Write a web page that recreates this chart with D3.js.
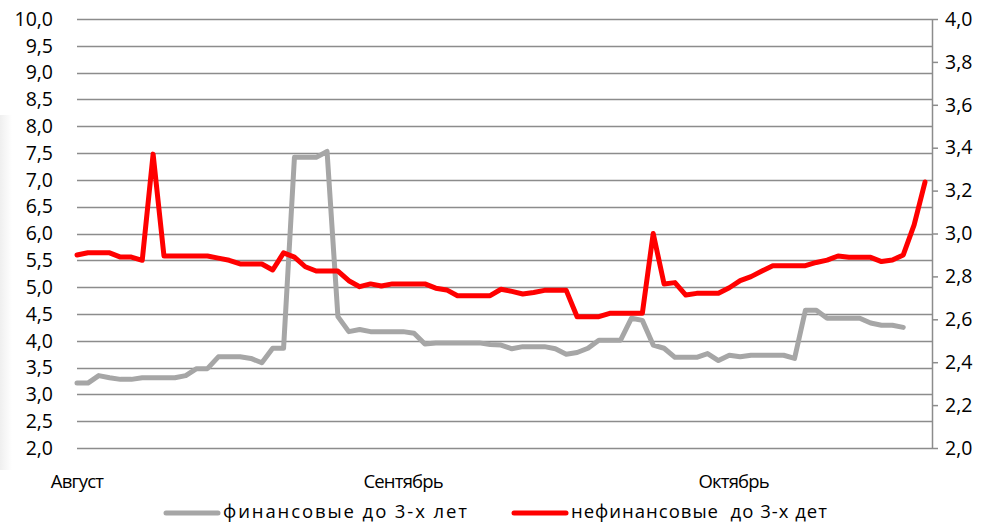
<!DOCTYPE html>
<html>
<head>
<meta charset="utf-8">
<script src="https://cdn.jsdelivr.net/npm/d3@7"></script>
<style>
  body { margin: 0; background: #fff; }
  text { font-family: 'Open Sans', sans-serif; fill: #000; }
</style>
</head>
<body>
<div class="chart"></div>
<script>

/** series data (left axis: financial, right axis: non-financial) */
const finSeries = [
  3.21, 3.21, 3.35, 3.31, 3.28, 3.28, 3.31, 3.31, 3.31, 3.31,
  3.35, 3.48, 3.48, 3.70, 3.70, 3.70, 3.67, 3.59, 3.86, 3.86,
  7.42, 7.42, 7.42, 7.53, 4.45, 4.17, 4.21, 4.17, 4.17, 4.17,
  4.17, 4.14, 3.94, 3.96, 3.96, 3.96, 3.96, 3.96, 3.93, 3.92,
  3.85, 3.89, 3.89, 3.89, 3.85, 3.75, 3.78, 3.86, 4.01, 4.01,
  4.01, 4.42, 4.38, 3.92, 3.86, 3.69, 3.69, 3.69, 3.76, 3.63,
  3.73, 3.70, 3.73, 3.73, 3.73, 3.73, 3.67, 4.57, 4.57, 4.42,
  4.42, 4.42, 4.42, 4.33, 4.29, 4.29, 4.25];

const nonFinSeries = [
  2.90, 2.91, 2.91, 2.91, 2.89, 2.89, 2.875, 3.37, 2.895, 2.895,
  2.895, 2.895, 2.895, 2.885, 2.875, 2.858, 2.858, 2.858, 2.83, 2.91,
  2.89, 2.845, 2.825, 2.825, 2.825, 2.78, 2.752, 2.765, 2.755, 2.765,
  2.765, 2.765, 2.765, 2.745, 2.737, 2.71, 2.71, 2.71, 2.71, 2.74,
  2.73, 2.718, 2.725, 2.735, 2.735, 2.735, 2.612, 2.612, 2.612, 2.628,
  2.628, 2.628, 2.628, 3.00, 2.765, 2.771, 2.713, 2.721, 2.721, 2.721,
  2.747, 2.78, 2.799, 2.825, 2.85, 2.85, 2.85, 2.85, 2.865, 2.876,
  2.895, 2.889, 2.889, 2.889, 2.869, 2.876, 2.90, 3.04, 3.24];

/** month labels and the category they sit on */
const monthNames = ['Август', 'Сентябрь', 'Октябрь'];
const monthIdx = [0, 30, 60.4];

/** axis ticks */
const leftTicks = d3.range(2, 10.01, 0.5);
const rightTicks = d3.range(2, 4.001, 0.2);

const seriesNames = ['финансовые до 3-х лет', 'нефинансовые  до 3-х дет'];
const seriesColors = ['#a6a6a6', '#ff0000'];

/** canvas */
let width = 991, height = 525;
let svg = d3.select('.chart').append('svg')
    .attr('width', width)
    .attr('height', height);

let plotLeft = 77, plotRight = 932, plotTop = 19, plotBottom = 448;
let fmt = d => d3.format('.1f')(d).replace('.', ',');

/** faint shading on the left edge */
let grad = svg.append('defs').append('linearGradient')
    .attr('id', 'edge');
grad.append('stop').attr('offset', '0%').attr('stop-color', '#efefef');
grad.append('stop').attr('offset', '100%').attr('stop-color', '#ffffff');
svg.append('rect')
    .attr('x', 0).attr('y', 115)
    .attr('width', 12).attr('height', 355)
    .attr('fill', 'url(#edge)');

/** scales */
let x = d3.scaleLinear()
    .domain([0, nonFinSeries.length - 1])
    .range([plotLeft, 925]);
let yLeft = d3.scaleLinear().domain([2, 10]).range([plotBottom, plotTop]);
let yRight = d3.scaleLinear().domain([2, 4]).range([plotBottom, plotTop]);

/** gridlines */
svg.append('g')
    .selectAll('line')
    .data(leftTicks)
    .enter()
    .append('line')
    .attr('x1', plotLeft)
    .attr('x2', plotRight)
    .attr('y1', d => Math.round(yLeft(d)) + 0.5)
    .attr('y2', d => Math.round(yLeft(d)) + 0.5)
    .style('stroke', '#8c8c8c')
    .style('stroke-width', 1.3);

/** left axis labels (no line, no ticks) */
let leftAxis = svg.append('g')
    .attr('transform', `translate(${plotLeft - 8}, 0)`)
    .call(d3.axisLeft(yLeft)
        .tickValues(leftTicks)
        .tickSize(0)
        .tickPadding(16)
        .tickFormat(fmt));
leftAxis.select('.domain').remove();
leftAxis.selectAll('text')
    .style('font-size', '19.5px')
    .style('font-family', "'Open Sans', sans-serif");

/** right axis */
let rightAxis = svg.append('g')
    .attr('transform', `translate(${plotRight}, 0)`)
    .call(d3.axisRight(yRight)
        .tickValues(rightTicks)
        .tickSize(6)
        .tickSizeOuter(0)
        .tickPadding(7)
        .tickFormat(fmt));
rightAxis.select('.domain')
    .style('stroke', '#8c8c8c')
    .style('stroke-width', 1.5);
rightAxis.selectAll('line')
    .style('stroke', '#8c8c8c')
    .style('stroke-width', 1.5);
rightAxis.selectAll('text')
    .style('font-size', '19.5px')
    .style('font-family', "'Open Sans', sans-serif");

/** lines */
let lineLeft = d3.line()
    .x((d, i) => x(i))
    .y(d => yLeft(d));
let lineRight = d3.line()
    .x((d, i) => x(i))
    .y(d => yRight(d));

svg.append('path')
    .datum(finSeries)
    .attr('d', lineLeft)
    .attr('fill', 'none')
    .style('stroke', seriesColors[0])
    .style('stroke-width', 5)
    .style('stroke-linejoin', 'round')
    .style('stroke-linecap', 'round');

svg.append('path')
    .datum(nonFinSeries)
    .attr('d', lineRight)
    .attr('fill', 'none')
    .style('stroke', seriesColors[1])
    .style('stroke-width', 5)
    .style('stroke-linejoin', 'round')
    .style('stroke-linecap', 'round');

/** month labels */
svg.append('g')
    .selectAll('text')
    .data(monthNames)
    .enter()
    .append('text')
    .attr('x', (d, i) => x(monthIdx[i]))
    .attr('y', 482)
    .attr('dy', '0.35em')
    .attr('text-anchor', 'middle')
    .style('font-size', '18.5px')
    .style('letter-spacing', '-0.8px')
    .text(d => d);

/** legend */
const legendX = [166, 514];
const legendSpacing = ['1.9px', '1px'];
let legend = svg.append('g')
    .selectAll('g')
    .data(seriesNames)
    .enter()
    .append('g')
    .attr('transform', (d, i) => `translate(${legendX[i]}, 512)`);
legend.append('line')
    .attr('x1', 0).attr('x2', 52)
    .attr('y1', 1).attr('y2', 1)
    .style('stroke', (d, i) => seriesColors[i])
    .style('stroke-width', 5)
    .style('stroke-linecap', 'round');
legend.append('text')
    .attr('x', 57)
    .attr('dy', '0.3em')
    .style('font-size', '18.5px')
    .style('letter-spacing', (d, i) => legendSpacing[i])
    .style('white-space', 'pre')
    .text(d => d);

</script>
</body>
</html>
